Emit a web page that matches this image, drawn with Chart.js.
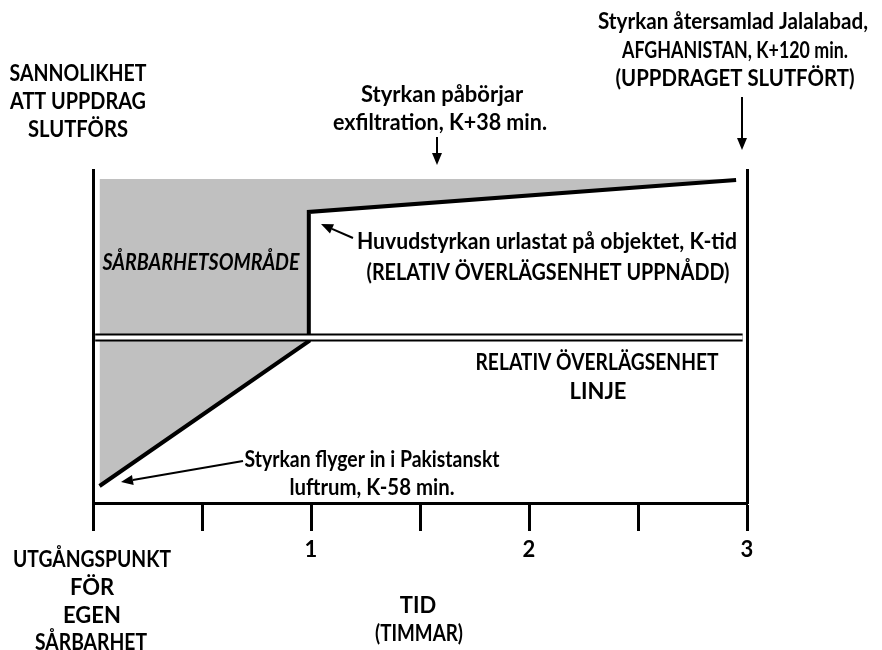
<!DOCTYPE html>
<html lang="sv">
<head>
<meta charset="UTF-8">
<title>Relativ överlägsenhet</title>
<script src="https://cdn.jsdelivr.net/npm/chart.js"></script>
<style>
    body { margin: 0; background: #fff; }
    canvas { display: block; }
</style>
</head>
<body>
<canvas id="chart" width="882" height="650"></canvas>
<script>
    // data (hours on x, probability scale 0-100 on y)
    const missionX = [0.03, 0.99, 0.99, 2.95];
    const missionY = [5.1, 48.6, 87.4, 97.0];
    const areaTop = 97.3;
    const superiorityX = [0.01, 2.98];
    const superiorityY = [49.7, 49.7];
    const tickStep = 0.5;
    const tickLabels = ['1', '2', '3'];

    const FONT = 'Lato, "Liberation Sans", Arial, sans-serif';
    const toPoints = (xs, ys) => xs.map((x, i) => ({ x: x, y: ys[i] }));

    // text labels: [text, centerX, centerY, maxWidth, italic]
    const labels = [
        ['SANNOLIKHET', 78, 74, 137],
        ['ATT UPPDRAG', 78, 102, 136],
        ['SLUTFÖRS', 78, 130, 100],
        ['Styrkan påbörjar', 442, 95, 170],
        ['exfiltration, K+38 min.', 440, 123, 214],
        ['Styrkan återsamlad Jalalabad,', 733, 22, 270],
        ['AFGHANISTAN, K+120 min.', 735, 51, 226],
        ['(UPPDRAGET SLUTFÖRT)', 735, 79, 239],
        ['SÅRBARHETSOMRÅDE', 201, 263, 197, true],
        ['Huvudstyrkan urlastat på objektet, K-tid', 547, 242, 380],
        ['(RELATIV ÖVERLÄGSENHET UPPNÅDD)', 548, 273, 363],
        ['RELATIV ÖVERLÄGSENHET', 597, 363, 243],
        ['LINJE', 598, 392, 60],
        ['Styrkan flyger in i Pakistanskt', 372, 460, 255],
        ['luftrum, K-58 min.', 372, 488, 165],
        ['UTGÅNGSPUNKT', 92, 560, 158],
        ['FÖR', 92, 588, 50],
        ['EGEN', 92, 616, 62],
        ['SÅRBARHET', 91, 643, 112],
        ['TID', 418, 606, 42],
        ['(TIMMAR)', 419, 634, 88]
    ];
    // arrows: [fromX, fromY, toX, toY]
    const arrows = [
        [437, 137, 437, 165],
        [742, 97, 742, 150],
        [353, 238, 321, 224],
        [243, 461, 121, 482]
    ];

    const annotations = {
        id: 'annotations',
        afterDraw(chart) {
            const c = chart.ctx;
            c.save();
            c.fillStyle = '#000';
            c.strokeStyle = '#000';
            c.textAlign = 'center';
            c.textBaseline = 'middle';
            labels.forEach(([t, x, y, w, it]) => {
                c.font = (it ? 'italic ' : '') + 'bold 22px ' + FONT;
                c.fillText(t, x, y, w);
            });
            c.lineWidth = 2;
            arrows.forEach(([x1, y1, x2, y2]) => {
                const a = Math.atan2(y2 - y1, x2 - x1);
                const len = 12, half = 5;
                const bx = x2 - len * Math.cos(a), by = y2 - len * Math.sin(a);
                c.beginPath();
                c.moveTo(x1, y1);
                c.lineTo(bx, by);
                c.stroke();
                c.beginPath();
                c.moveTo(x2, y2);
                c.lineTo(bx + half * Math.sin(a), by - half * Math.cos(a));
                c.lineTo(bx - half * Math.sin(a), by + half * Math.cos(a));
                c.closePath();
                c.fill();
            });
            c.restore();
        }
    };

    new Chart(document.getElementById('chart'), {
        type: 'line',
        data: {
            datasets: [
                {
                    data: toPoints(superiorityX, superiorityY),
                    borderColor: '#fff',
                    borderWidth: 4,
                    borderCapStyle: 'butt',
                    pointRadius: 0,
                    order: 0
                },
                {
                    data: toPoints(superiorityX, superiorityY),
                    borderColor: '#000',
                    borderWidth: 8,
                    borderCapStyle: 'butt',
                    pointRadius: 0,
                    order: 1
                },
                {
                    data: toPoints(missionX, missionY),
                    borderColor: '#000',
                    borderWidth: 4,
                    borderJoinStyle: 'miter',
                    backgroundColor: '#c0c0c0',
                    fill: { value: areaTop },
                    pointRadius: 0,
                    order: 2
                }
            ]
        },
        options: {
            responsive: false,
            animation: false,
            events: [],
            layout: { padding: { top: 170 } },
            plugins: {
                legend: { display: false },
                tooltip: { enabled: false }
            },
            scales: {
                x: {
                    type: 'linear',
                    min: 0,
                    max: 3,
                    afterFit: s => { s.height = 147; },
                    border: { display: true, color: '#000', width: 3 },
                    grid: {
                        drawOnChartArea: false,
                        drawTicks: true,
                        tickLength: 28,
                        tickWidth: 3,
                        tickColor: '#000'
                    },
                    ticks: {
                        stepSize: tickStep,
                        autoSkip: false,
                        maxRotation: 0,
                        color: '#000',
                        padding: 6,
                        font: { family: FONT, size: 22, weight: 'bold' },
                        callback: v => (v > 0 && Number.isInteger(v)) ? tickLabels[v - 1] : ''
                    }
                },
                y: {
                    min: 0,
                    max: 100,
                    position: 'left',
                    afterFit: s => { s.width = 93; },
                    border: { display: true, color: '#000', width: 3 },
                    grid: { drawOnChartArea: false, drawTicks: false },
                    ticks: { display: false }
                },
                y2: {
                    min: 0,
                    max: 100,
                    position: 'right',
                    afterFit: s => { s.width = 135; },
                    border: { display: true, color: '#000', width: 3 },
                    grid: { drawOnChartArea: false, drawTicks: false },
                    ticks: { display: false }
                }
            }
        },
        plugins: [annotations]
    });
</script>
</body>
</html>
